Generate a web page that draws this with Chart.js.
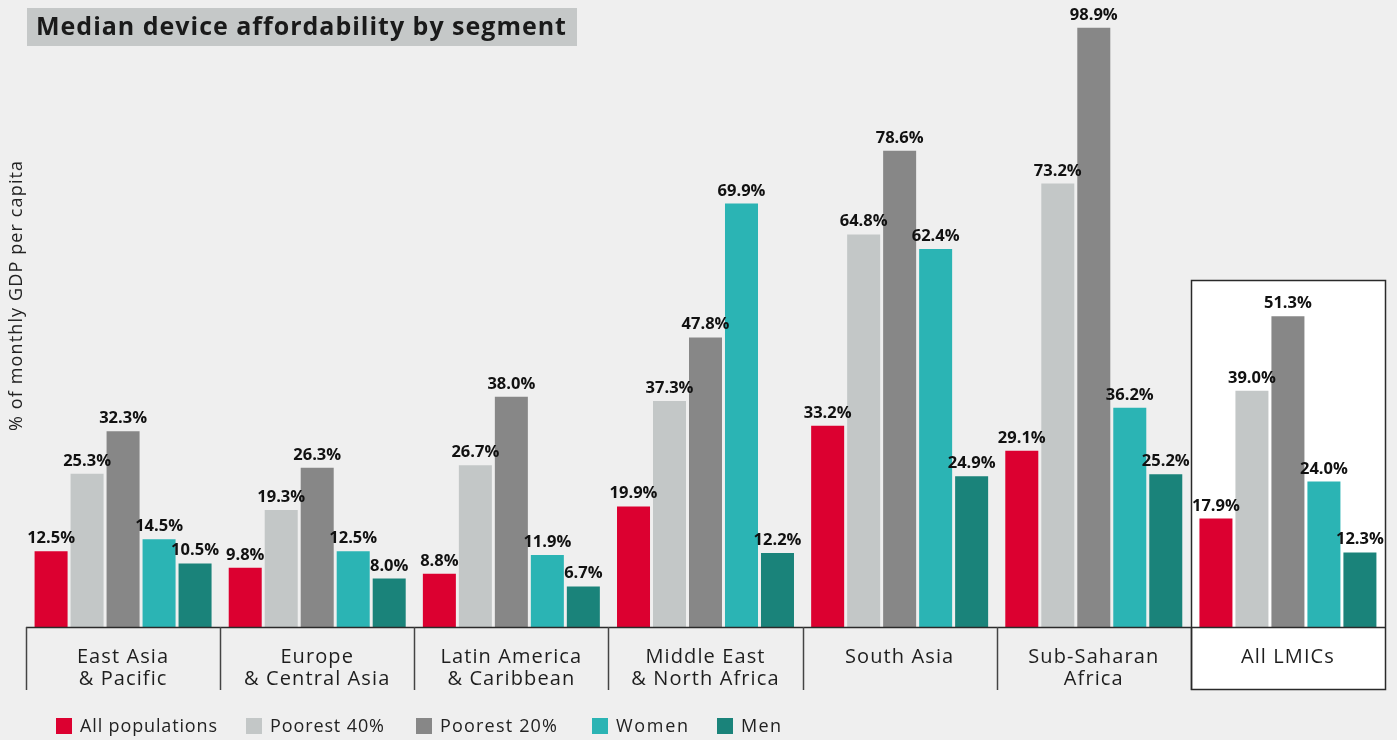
<!DOCTYPE html>
<html><head><meta charset="utf-8">
<script src="https://cdn.jsdelivr.net/npm/chart.js@4"></script>
<style>html,body{margin:0;padding:0;background:#efefef;}#wrap{width:1397px;height:740px;position:relative;}</style>
</head><body><div id="wrap"><canvas id="c" width="1397" height="740"></canvas></div>
<script>
const title = "Median device affordability by segment";
const yTitle = "% of monthly GDP per capita";
const categories = [
  ["East Asia", "& Pacific"],
  ["Europe", "& Central Asia"],
  ["Latin America", "& Caribbean"],
  ["Middle East", "& North Africa"],
  ["South Asia"],
  ["Sub-Saharan", "Africa"],
  ["All LMICs"]
];
const seriesNames = ["All populations", "Poorest 40%", "Poorest 20%", "Women", "Men"];
const allPopulations = [12.5, 9.8, 8.8, 19.9, 33.2, 29.1, 17.9];
const poorest40 = [25.3, 19.3, 26.7, 37.3, 64.8, 73.2, 39.0];
const poorest20 = [32.3, 26.3, 38.0, 47.8, 78.6, 98.9, 51.3];
const women = [14.5, 12.5, 11.9, 69.9, 62.4, 36.2, 24.0];
const men = [10.5, 8.0, 6.7, 12.2, 24.9, 25.2, 12.3];
const colors = ["#dc0030", "#c3c7c7", "#878787", "#2bb4b4", "#1a837a"];

const FONT = "'Open Sans', 'DejaVu Sans', sans-serif";
const seriesValues = [allPopulations, poorest40, poorest20, women, men];

function fitText(ctx, text, x, y, target) {
  ctx.letterSpacing = '0px';
  const w = ctx.measureText(text).width;
  const ls = (target - w) / Math.max(1, text.length - 1);
  ctx.letterSpacing = ls.toFixed(2) + 'px';
  ctx.fillText(text, x, y);
  ctx.letterSpacing = '0px';
}

const decor = {
  id: 'decor',
  beforeDatasetsDraw(chart) {
    const ctx = chart.ctx, ca = chart.chartArea;
    const n = categories.length;
    const w = (ca.right - ca.left) / n;
    const bl = ca.left + (n - 1) * w, br = ca.right;
    ctx.save();
    ctx.fillStyle = '#ffffff';
    ctx.fillRect(bl, 280, br - bl, 690 - 280);
    ctx.restore();
  },
  afterDatasetsDraw(chart) {
    const ctx = chart.ctx, ca = chart.chartArea;
    const n = categories.length;
    const w = (ca.right - ca.left) / n;
    ctx.save();
    // data labels
    ctx.font = "bold 16.5px " + FONT;
    ctx.fillStyle = '#111';
    ctx.textAlign = 'center';
    ctx.textBaseline = 'alphabetic';
    chart.data.datasets.forEach((ds, di) => {
      const meta = chart.getDatasetMeta(di);
      meta.data.forEach((bar, i) => {
        ctx.fillText(ds.data[i].toFixed(1) + '%', bar.x, bar.y - 8);
      });
    });
    // baseline
    ctx.strokeStyle = '#2a2a2a';
    ctx.lineWidth = 1.5;
    ctx.beginPath();
    ctx.moveTo(ca.left, ca.bottom + 0.5);
    ctx.lineTo(ca.right, ca.bottom + 0.5);
    ctx.stroke();
    // separators
    ctx.strokeStyle = '#444';
    for (let i = 0; i < n; i++) {
      const xx = Math.round(ca.left + i * w) + 0.5;
      ctx.beginPath();
      ctx.moveTo(xx, ca.bottom);
      ctx.lineTo(xx, 690);
      ctx.stroke();
    }
    // box outline
    const bl = ca.left + (n - 1) * w, br = ca.right;
    ctx.strokeStyle = '#2a2a2a';
    ctx.strokeRect(Math.round(bl) + 0.5, 280.5, Math.round(br - bl), 409);
    // x labels
    ctx.font = "20px " + FONT;
    ctx.letterSpacing = '1.1px';
    ctx.fillStyle = '#1e1e1e';
    ctx.textAlign = 'center';
    ctx.textBaseline = 'middle';
    categories.forEach((lines, i) => {
      const cx = chart.scales.x.getPixelForValue(i);
      lines.forEach((t, j) => ctx.fillText(t, cx, 657 + j * 22));
    });
    ctx.letterSpacing = '0px';
    // title box
    ctx.fillStyle = '#c5c8c8';
    ctx.fillRect(27, 8, 550, 38);
    ctx.font = "bold 25px " + FONT;
    ctx.fillStyle = '#1a1a1a';
    ctx.textAlign = 'left';
    ctx.textBaseline = 'middle';
    fitText(ctx, title, 36, 28, 530);
    // y title
    ctx.save();
    ctx.translate(17, 296);
    ctx.rotate(-Math.PI / 2);
    ctx.font = "18px " + FONT;
    ctx.fillStyle = '#222';
    ctx.textAlign = 'left';
    ctx.textBaseline = 'middle';
    fitText(ctx, yTitle, -135, 0, 270);
    ctx.restore();
    // legend
    const lx = [56, 246, 416, 592, 717];
    const lw = [137, 114, 117, 72, 40];
    ctx.font = "18px " + FONT;
    ctx.textAlign = 'left';
    ctx.textBaseline = 'middle';
    chart.data.datasets.forEach((ds, di) => {
      ctx.fillStyle = ds.backgroundColor;
      ctx.fillRect(lx[di], 718, 16, 16);
      ctx.fillStyle = '#222';
      fitText(ctx, ds.label, lx[di] + 24, 727, lw[di]);
    });
    ctx.restore();
  }
};

new Chart(document.getElementById('c'), {
  type: 'bar',
  data: {
    labels: categories.map(c => c.join(' ')),
    datasets: seriesNames.map((name, i) => ({
      label: name,
      data: seriesValues[i],
      backgroundColor: colors[i],
      borderWidth: 0,
      categoryPercentage: 0.927,
      barPercentage: 0.917
    }))
  },
  options: {
    responsive: false,
    animation: false,
    devicePixelRatio: 1,
    layout: { padding: { left: 26, right: 12, top: 3, bottom: 113 } },
    plugins: { legend: { display: false }, tooltip: { enabled: false }, title: { display: false } },
    scales: {
      x: { display: false, grid: { display: false } },
      y: { display: false, min: 0, max: 103, grid: { display: false } }
    }
  },
  plugins: [decor]
});
</script>
</body></html>
